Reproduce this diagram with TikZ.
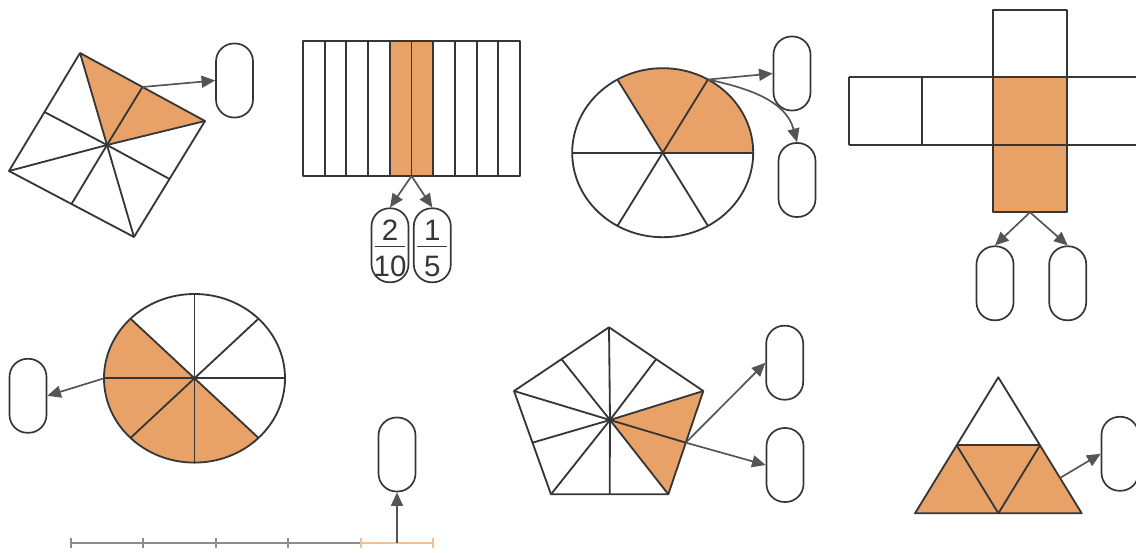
\documentclass[tikz,border=0pt]{standalone}
\usepackage{fontspec}
\setmainfont{Liberation Sans}
\usetikzlibrary{arrows.meta,positioning,calc}
\definecolor{partorange}{HTML}{E8A268}
\definecolor{lineink}{HTML}{363636}
\definecolor{arrowgray}{HTML}{555555}
\definecolor{axisgray}{HTML}{8C8C8C}
\definecolor{axisorange}{HTML}{F3BF96}

\begin{document}
\begin{tikzpicture}[x=0.025cm, y=0.025cm, line join=round,
  figline/.style={draw=lineink, line width=1.3pt},
  part/.style={fill=partorange},
  pill/.style={draw=lineink, line width=1.2pt, rounded corners=0.45cm, minimum width=0.925cm, minimum height=1.85cm, inner sep=0pt},
  arr/.style={draw=arrowgray, line width=1.2pt, -{Triangle[length=0.34cm,width=0.3cm]}},
  digit/.style={font=\fontsize{21}{24}\selectfont, text=lineink, inner sep=0pt}]
  \useasboundingbox (0,0) rectangle (1136,-552);
  \clip (0,0) rectangle (1136,-552);

  % square cut into eight
  \coordinate (sqT) at (80,-53);
  \coordinate (sqR) at (205,-121);
  \coordinate (sqB) at (134,-237);
  \coordinate (sqL) at (9,-171);
  \coordinate (sqC) at (107,-145);
  \coordinate (sqTR) at ($(sqT)!0.5!(sqR)$);
  \coordinate (sqRB) at ($(sqR)!0.5!(sqB)$);
  \coordinate (sqBL) at ($(sqB)!0.5!(sqL)$);
  \coordinate (sqLT) at ($(sqL)!0.5!(sqT)$);
  \fill[part] (sqC) -- (sqT) -- (sqR) -- cycle;
  \draw[figline] (sqT) -- (sqR) -- (sqB) -- (sqL) -- cycle;
  \foreach \p in {sqT,sqR,sqB,sqL,sqTR,sqRB,sqBL,sqLT}
    \draw[figline] (sqC) -- (\p);
  \node[pill] (sqpill) at (234.5,-80.5) {};
  \draw[arr] (sqTR) -- (sqpill.west);

  % strip of ten
  \fill[part] (389.8,-41) rectangle (433.2,-176);
  \draw[figline] (303,-41) rectangle (520,-176);
  \foreach \i in {1,...,9}
    \draw[figline] ({303+\i*21.7},-41) -- ({303+\i*21.7},-176);
  \coordinate (stB) at (411.5,-176);
  \node[pill] (fa) at (390,-245.3) {};
  \node[pill] (fb) at (432.3,-245.3) {};
  \draw[arr] (stB) -- (fa.north);
  \draw[arr] (stB) -- (fb.north);
  \node[digit] (fanum) at (390,-230) {2};
  \node[digit] (faden) at (390,-266.7) {10};
  \node[digit] (fbnum) at (432.3,-230) {1};
  \node[digit] (fbden) at (432.3,-266.7) {5};
  \draw[draw=lineink, line width=1.1pt] (375,-246.7) -- (405,-246.7);
  \draw[draw=lineink, line width=1.1pt] (417.3,-246.7) -- (447.3,-246.7);

  % circle cut into six
  \coordinate (tc) at (662.7,-152.7);
  \fill[part] (tc) -- ++(0:90.5 and 84.5) arc[start angle=0, end angle=120, x radius=90.5, y radius=84.5] -- cycle;
  \draw[figline] (tc) ellipse[x radius=90.5, y radius=84.5];
  \foreach \a in {0,60,120,180,240,300}
    \draw[figline] (tc) -- ++(\a:90.5 and 84.5);
  \coordinate (tc60) at ($(tc)+(60:90.5 and 84.5)$);
  \node[pill] (tcpa) at (792,-73.5) {};
  \node[pill] (tcpb) at (797,-180) {};
  \draw[arr] (tc60) -- (tcpa.west);
  \draw[arr] (tc60) to[out=-12, in=105] (tcpb.north);

  % cross of squares
  \fill[part] (993.3,-77.3) rectangle (1066.7,-212.3);
  \draw[figline] (993.3,-10) rectangle (1066.7,-77.3);
  \draw[figline] (849,-77.3) -- (1136,-77.3);
  \draw[figline] (849,-145) -- (1136,-145);
  \draw[figline] (849,-77.3) -- (849,-145);
  \draw[figline] (921.7,-77.3) -- (921.7,-145);
  \draw[figline] (993.3,-77.3) rectangle (1066.7,-212.3);
  \coordinate (crB) at (1030,-212.3);
  \node[pill] (cpa) at (995,-283.3) {};
  \node[pill] (cpb) at (1067.7,-283.3) {};
  \draw[arr] (crB) -- (cpa.north);
  \draw[arr] (crB) -- (cpb.north);

  % circle cut into eight
  \coordinate (bc) at (194.5,-378.3);
  \fill[part] (bc) -- ++(135:90.5 and 84.3) arc[start angle=135, end angle=315, x radius=90.5, y radius=84.3] -- cycle;
  \draw[figline] (bc) ellipse[x radius=90.5, y radius=84.3];
  \foreach \a in {0,45,...,315}
    \draw[figline] (bc) -- ++(\a:90.5 and 84.3);
  \coordinate (bc180) at ($(bc)+(180:90.5 and 84.3)$);
  \node[pill] (bcpill) at (28,-395.8) {};
  \draw[arr] (bc180) -- (bcpill.east);

  % number line
  \draw[axisgray, line width=1.3pt] (70.7,-543.3) -- (360.7,-543.3);
  \foreach \i in {0,...,3}
    \draw[axisgray, line width=1.3pt] ({70.7+\i*72.5},-538.3) -- ({70.7+\i*72.5},-548.3);
  \draw[axisorange, line width=1.3pt] (360.7,-543.3) -- (433.3,-543.3);
  \draw[axisorange, line width=1.3pt] (360.7,-538.3) -- (360.7,-548.3);
  \draw[axisorange, line width=1.3pt] (433.3,-538.3) -- (433.3,-548.3);
  \coordinate (nlM) at (397,-543.3);
  \node[pill] (nlpill) at (397,-454.5) {};
  \draw[arr] (nlM) -- (nlpill.south);

  % pentagon cut into ten
  \coordinate (pT) at (609,-327.3);
  \coordinate (pUR) at (703.3,-391);
  \coordinate (pLR) at (668.3,-494.3);
  \coordinate (pLL) at (551,-494.3);
  \coordinate (pUL) at (514,-391);
  \coordinate (pC) at (610,-420);
  \coordinate (pTm) at ($(pT)!0.5!(pUR)$);
  \coordinate (pRm) at ($(pUR)!0.5!(pLR)$);
  \coordinate (pBm) at ($(pLR)!0.5!(pLL)$);
  \coordinate (pLm) at ($(pLL)!0.5!(pUL)$);
  \coordinate (pUm) at ($(pUL)!0.5!(pT)$);
  \fill[part] (pC) -- (pUR) -- (pLR) -- cycle;
  \draw[figline] (pT) -- (pUR) -- (pLR) -- (pLL) -- (pUL) -- cycle;
  \foreach \p in {pT,pUR,pLR,pLL,pUL,pTm,pRm,pBm,pLm,pUm}
    \draw[figline] (pC) -- (\p);
  \node[pill] (ppa) at (784.7,-362.7) {};
  \node[pill] (ppb) at (785,-465) {};
  \draw[arr] (pRm) -- (ppa.west);
  \draw[arr] (pRm) -- (ppb.west);

  % triangle cut into four
  \coordinate (trA) at (998.3,-377.3);
  \coordinate (trBL) at (915,-513.3);
  \coordinate (trBR) at (1081.7,-513.3);
  \coordinate (trLm) at ($(trA)!0.5!(trBL)$);
  \coordinate (trRm) at ($(trA)!0.5!(trBR)$);
  \coordinate (trBm) at ($(trBL)!0.5!(trBR)$);
  \fill[part] (trBL) -- (trBR) -- (trRm) -- (trLm) -- cycle;
  \draw[figline] (trA) -- (trBR) -- (trBL) -- cycle;
  \draw[figline] (trLm) -- (trRm);
  \draw[figline] (trLm) -- (trBm) -- (trRm);
  \coordinate (trP) at ($(trA)!0.74!(trBR)$);
  \node[pill] (trpill) at (1120,-453.8) {};
  \draw[arr] (trP) -- (trpill.west);
\end{tikzpicture}
\end{document}
